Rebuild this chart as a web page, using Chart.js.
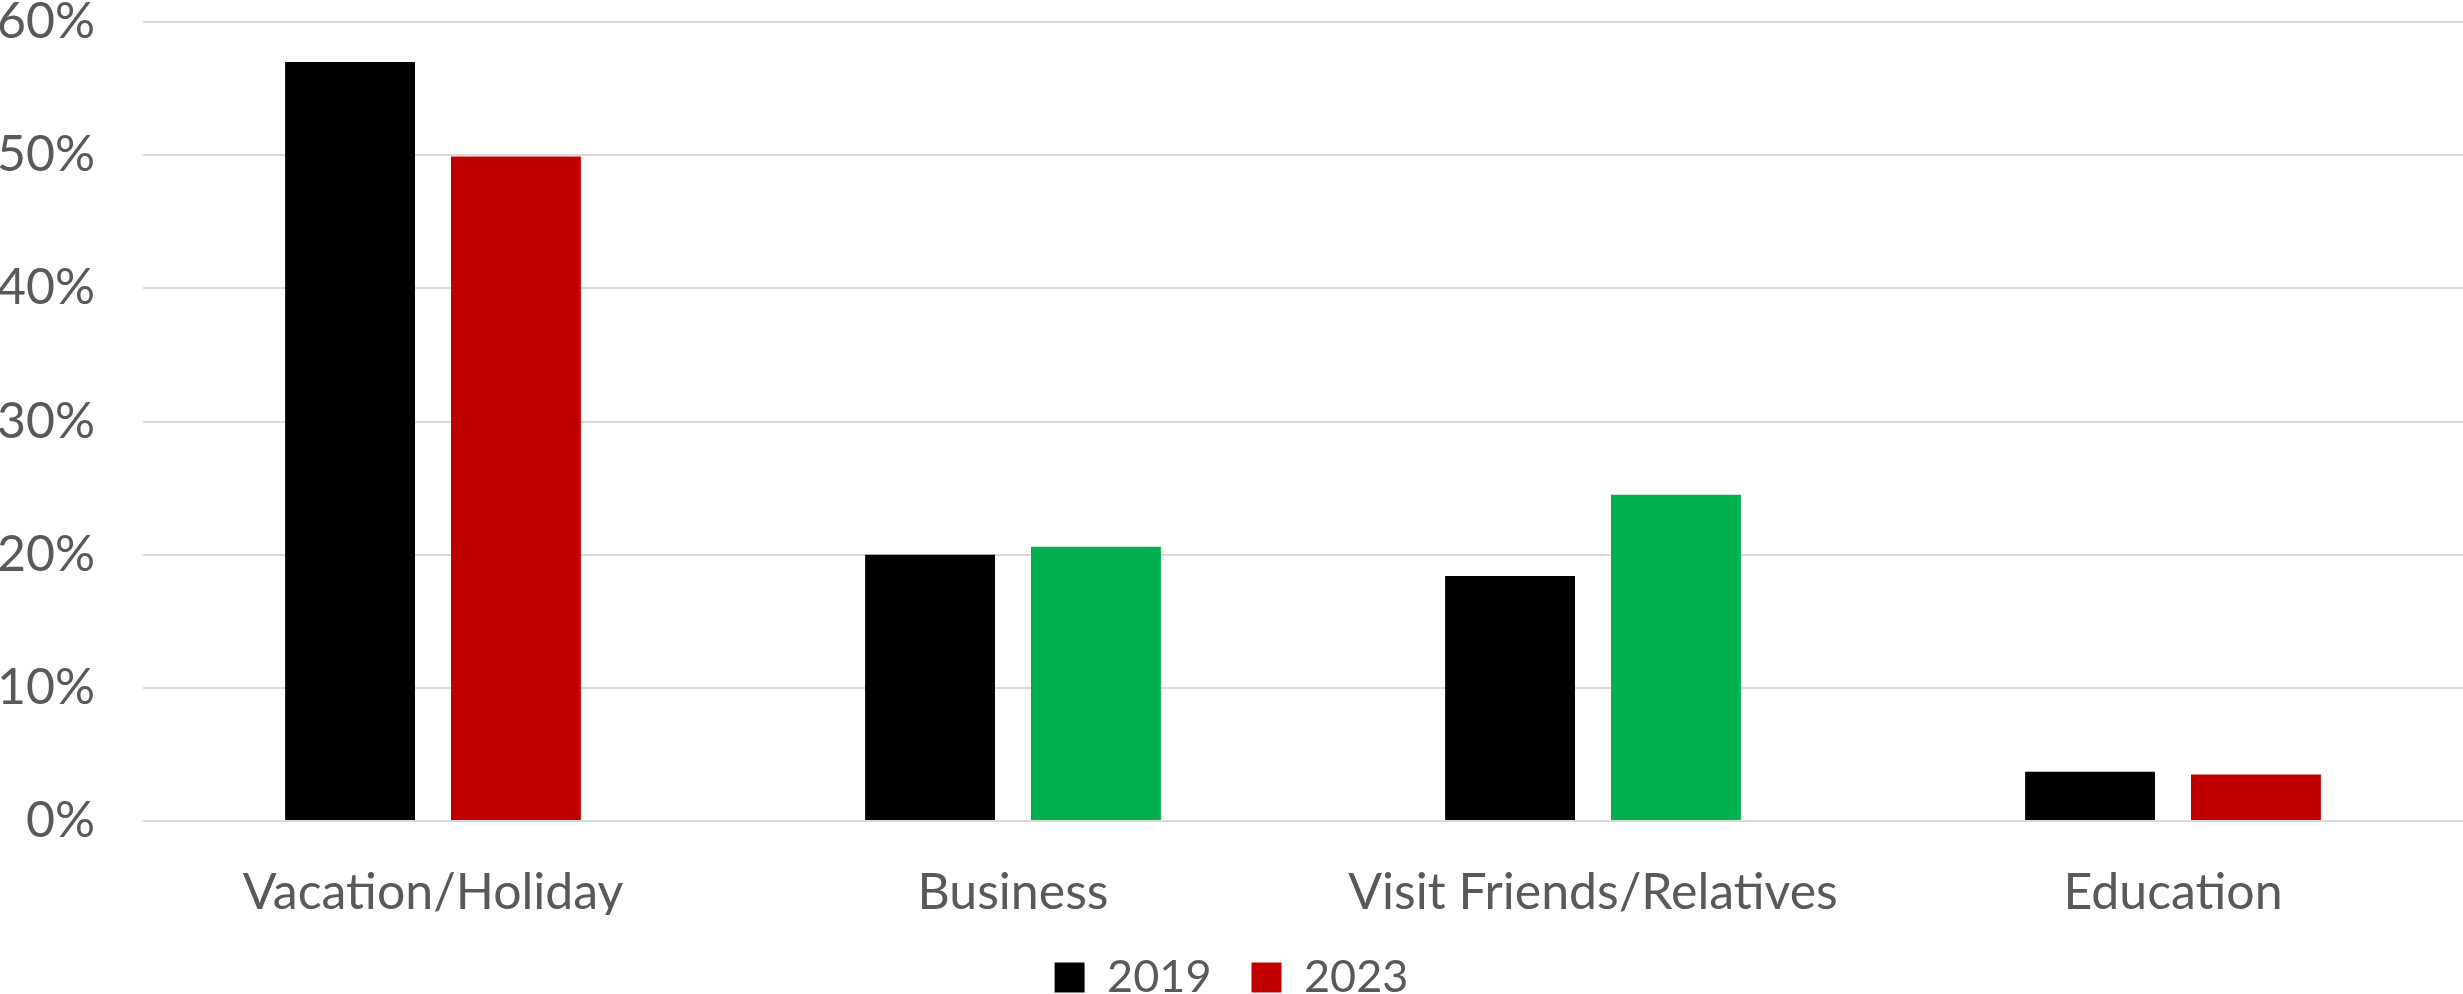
<!DOCTYPE html>
<html>
<head>
<meta charset="utf-8">
<script src="https://cdn.jsdelivr.net/npm/chart.js@4"></script>
<style>
  html, body { margin: 0; padding: 0; background: #fff; }
  #wrap { width: 2463px; height: 994px; }
</style>
</head>
<body>
<div id="wrap"><canvas id="myBarChart"></canvas></div>
<script>
// dados
var categorias = ["Vacation/Holiday", "Business", "Visit Friends/Relatives", "Education"];
var anos = ["2019", "2023"];
var valores2019 = [57.0, 20.0, 18.4, 3.7];
var valores2023 = [49.9, 20.6, 24.5, 3.5];
var cores2019 = ["#000000", "#000000", "#000000", "#000000"];
var cores2023 = ["#C00000", "#00B050", "#00B050", "#C00000"];
var coresLegenda = ["#000000", "#C00000"];
var ticksY = [0, 10, 20, 30, 40, 50, 60];

var fonte = "Lato, 'Open Sans', sans-serif";
var corTexto = "#595959";

var dados = {
  labels: categorias,
  datasets: [
    {
      label: anos[0],
      data: valores2019,
      backgroundColor: cores2019,
      categoryPercentage: 0.572,
      barPercentage: 0.783,
    },
    {
      label: anos[1],
      data: valores2023,
      backgroundColor: cores2023,
      categoryPercentage: 0.572,
      barPercentage: 0.783,
    },
  ],
};

var options01 = {
  responsive: true,
  maintainAspectRatio: false,
  animation: false,
  devicePixelRatio: 1,
  layout: {
    padding: { top: 0, right: 0, bottom: -16, left: 0 },
  },
  plugins: {
    tooltip: { enabled: false },
    legend: {
      position: "bottom",
      labels: {
        color: corTexto,
        boxWidth: 30,
        boxHeight: 30,
        padding: 40,
        font: { family: fonte, size: 45 },
        generateLabels: function (chart) {
          var itens = Chart.defaults.plugins.legend.labels.generateLabels(chart);
          for (var i = 0; i < itens.length; i++) {
            itens[i].fillStyle = coresLegenda[i];
            itens[i].strokeStyle = coresLegenda[i];
            itens[i].lineWidth = 0;
          }
          return itens;
        },
      },
    },
  },
  scales: {
    x: {
      grid: { display: false },
      border: { display: false },
      afterFit: function (scale) {
        scale.height = scale.height - 42;
      },
      ticks: {
        color: corTexto,
        padding: 34,
        maxRotation: 0,
        font: { family: fonte, size: 50 },
      },
    },
    y: {
      min: 0,
      max: 60,
      afterFit: function (scale) {
        scale.width = 143;
        // o padding dos ticks empurrava a área do gráfico para baixo
        scale.paddingTop = 22;
        scale.paddingBottom = 0;
      },
      afterBuildTicks: function (scale) {
        scale.ticks = ticksY.map(function (v) { return { value: v }; });
      },
      grid: { color: "#D9D9D9", lineWidth: 2, drawTicks: false },
      border: { display: false },
      ticks: {
        color: corTexto,
        padding: 48,
        font: { family: fonte, size: 50 },
        callback: function (v) { return v + "%"; },
      },
    },
  },
};

var config = {
  type: "bar",
  data: dados,
  options: options01,
};
myChart = new Chart(document.getElementById("myBarChart"), config);
</script>
</body>
</html>
